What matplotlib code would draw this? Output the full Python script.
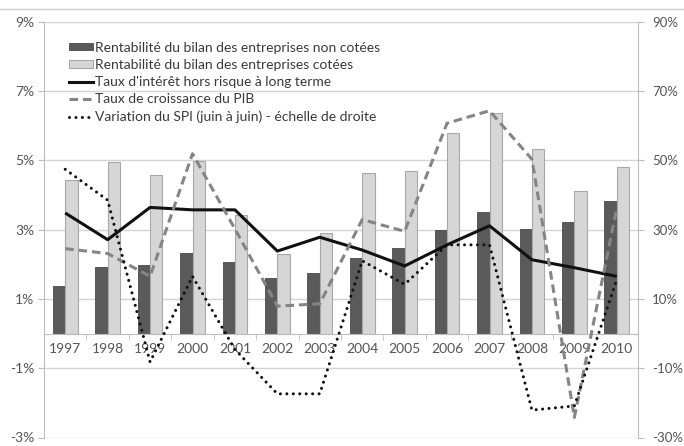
import numpy as np
import matplotlib
matplotlib.use("Agg")
import matplotlib.pyplot as plt
from matplotlib.lines import Line2D
from matplotlib.patches import Patch
from matplotlib.ticker import FuncFormatter, FixedLocator

plt.rcParams['font.family'] = ['Lato', 'DejaVu Sans']

years = [str(y) for y in range(1997, 2011)]
non_cotees = [1.38, 1.92, 1.97, 2.33, 2.06, 1.60, 1.74, 2.17, 2.46, 2.98, 3.50, 3.02, 3.23, 3.83]
cotees = [4.44, 4.96, 4.59, 4.99, 3.41, 2.30, 2.89, 4.63, 4.69, 5.78, 6.36, 5.33, 4.10, 4.82]
taux_interet = [3.48, 2.71, 3.64, 3.57, 3.57, 2.38, 2.78, 2.41, 1.95, 2.56, 3.11, 2.13, 1.90, 1.65]
croissance_pib = [2.45, 2.31, 1.65, 5.19, 3.02, 0.79, 0.86, 3.29, 2.95, 6.07, 6.43, 5.03, -2.42, 3.62]
variation_spi = [47.4, 38.5, -8.2, 16.5, -4.6, -17.4, -17.4, 21.0, 14.2, 25.6, 25.6, -22.1, -20.9, 15.6]

labels = [
    "Rentabilité du bilan des entreprises non cotées",
    "Rentabilité du bilan des entreprises cotées",
    "Taux d'intérêt hors risque à long terme",
    "Taux de croissance du PIB",
    "Variation du SPI (juin à juin) - échelle de droite",
]

DARK = "#5a5a5a"
LIGHT = "#d6d6d6"
GRID = "#d4d4d4"
AXIS = "#bdbdbd"
TXT = "#555555"

fig = plt.figure(figsize=(6.84, 4.46), dpi=100)
ax = fig.add_axes([44 / 684, 1 - 437.5 / 446, (638 - 44) / 684, (437.5 - 21.7) / 446])
x = np.arange(len(years))
w = 0.29

ax.bar(x - w / 2, non_cotees, width=w, color=DARK, edgecolor="#4a4a4a", linewidth=0.6, zorder=2)
ax.bar(x + w / 2, cotees, width=w, color=LIGHT, edgecolor="#a8a8a8", linewidth=0.8, zorder=2)
ax.plot(x, taux_interet, color="#111111", lw=2.2, zorder=4, solid_capstyle="butt")
ax.plot(x, croissance_pib, color="#858585", lw=2.2, zorder=4,
        linestyle=(0, (2.8, 1.6)), dash_capstyle="butt")

ax.set_xlim(-0.5, len(years) - 0.5)
ax.set_ylim(-3, 9)
ax.set_yticks(np.arange(-3, 10, 2))
ax.yaxis.set_major_formatter(FuncFormatter(lambda v, p: f"{v:.0f}%"))
ax.grid(axis="y", color=GRID, lw=1.0, zorder=0)
ax.set_axisbelow(True)

# category axis drawn across the zero line
ax.spines["bottom"].set_position(("data", 0))
ax.spines["bottom"].set_color(AXIS)
ax.spines["top"].set_visible(False)
for s in ("left", "right"):
    ax.spines[s].set_color(AXIS)
ax.xaxis.set_major_locator(FixedLocator(x))
ax.set_xticklabels(years)
ax.xaxis.set_minor_locator(FixedLocator(np.arange(-0.5, len(years), 1.0)))
ax.tick_params(axis="x", which="major", length=0, pad=7, labelsize=10, labelcolor=TXT)
ax.tick_params(axis="x", which="minor", length=4, color=AXIS, direction="out")
ax.tick_params(axis="y", length=4, color=AXIS, labelsize=10, labelcolor=TXT, pad=3)

ax2 = ax.twinx()
ax2.set_ylim(-30, 90)
ax2.set_yticks(np.arange(-30, 91, 20))
ax2.yaxis.set_major_formatter(FuncFormatter(lambda v, p: f"{v:.0f}%"))
ax2.plot(x, variation_spi, color="#111111", lw=2.2, zorder=5,
         linestyle=(0, (0.01, 2.1)), dash_capstyle="round")
for s in ("left", "right", "top", "bottom"):
    ax2.spines[s].set_visible(False)
ax2.tick_params(axis="y", length=4, color=AXIS, labelsize=9.5, labelcolor=TXT, pad=6)

handles = [
    Patch(facecolor=DARK, edgecolor="#4a4a4a", linewidth=0.6),
    Patch(facecolor=LIGHT, edgecolor="#a8a8a8", linewidth=0.8),
    Line2D([], [], color="#111111", lw=2.2),
    Line2D([], [], color="#858585", lw=2.2, linestyle=(0, (2.8, 1.6))),
    Line2D([], [], color="#111111", lw=2.2, linestyle=(0, (0.01, 2.1)), dash_capstyle="round"),
]
leg = fig.legend(handles, labels, loc="upper left", bbox_to_anchor=(69 / 684, 1 - 41.5 / 446),
                 frameon=False, fontsize=10, handlelength=1.75, handleheight=0.45,
                 handletextpad=0.15, labelspacing=0.38, borderpad=0, borderaxespad=0)
for t in leg.get_texts():
    t.set_color("#3a3a3a")

# thin frame line along the top of the chart area
fig.add_artist(Line2D([0, 1], [1 - 8.5 / 446, 1 - 8.5 / 446], transform=fig.transFigure,
                      color="#cfcfcf", lw=1.0))

fig.savefig("out.png", dpi=100, facecolor="white")
